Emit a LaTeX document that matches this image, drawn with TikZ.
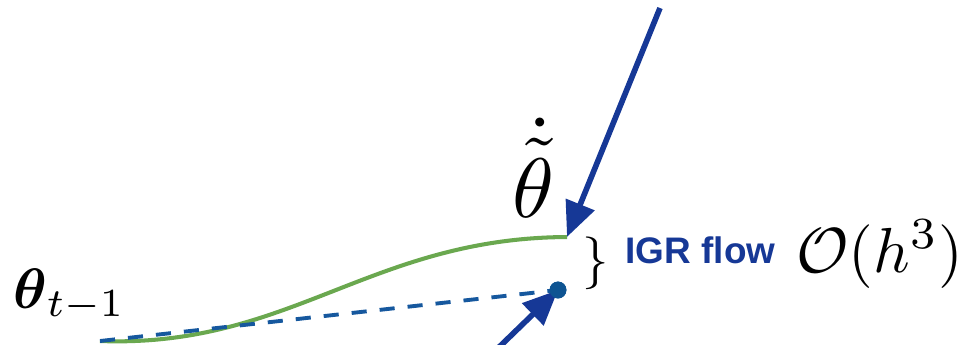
\documentclass[tikz,border=0pt]{standalone}
\usepackage{amsmath}
\usepackage{fontspec}
\newfontfamily\flowfont{Liberation Sans}
\usetikzlibrary{arrows.meta, positioning, calc}
\definecolor{igrblue}{RGB}{22,56,150}
\definecolor{pathgreen}{RGB}{106,168,79}
\definecolor{stepblue}{RGB}{22,88,158}
\definecolor{dotblue}{RGB}{14,84,146}

\begin{document}
\begin{tikzpicture}[
  x=0.01cm, y=-0.01cm,
  >={Triangle[length=10pt, width=8.5pt]},
  flowarr/.style={->, igrblue, line width=1.6pt},
  mathlbl/.style={inner sep=0pt, font=\fontsize{10}{12}\selectfont},
]
\useasboundingbox (0,0) rectangle (963,344);
\clip (0,0) rectangle (963,344);

% End points of the two paths
\coordinate (start) at (100,341);
\coordinate (gend)  at (567,237);
\node[circle, fill=dotblue, inner sep=0pt, minimum size=4.8pt] (dot) at (558,290) {};

% Arrow feet (outside the drawn area at the bottom)
\coordinate (topfoot) at (660,8);
\coordinate (lowfoot) at (494,352);

% --- green flow path and dashed step ---
\draw[pathgreen, line width=1.15pt] (start) .. controls (290,348) and (370,238) .. (gend);
\draw[stepblue, line width=1.1pt, dash pattern=on 4.3pt off 3.7pt] (start) -- (dot.center);

% --- arrows ---
\draw[flowarr] (topfoot) -- (gend);
\draw[flowarr] (lowfoot) -- (dot.center);
\node[circle, fill=dotblue, inner sep=0pt, minimum size=4.8pt] at (dot) {};

% --- labels ---
\node[mathlbl, anchor=base west, scale=1.62] (prev) at (12,308) {$\boldsymbol{\theta}_{t-1}$};
\node[mathlbl, anchor=base, scale=2.4] (thdot) at (533,217) {$\dot{\tilde{\theta}}$};
\node[mathlbl, scale=1.5] (brace) at (596,263) {$\}$};
\node[inner sep=0pt, anchor=west, text=igrblue, font=\flowfont\bfseries\fontsize{10.5}{12}\selectfont] (igr) at (625,250) {IGR flow};
\node[mathlbl, anchor=base west, scale=1.81] (order) at (795,272) {$\mathcal{O}(h^3)$};
\end{tikzpicture}
\end{document}
